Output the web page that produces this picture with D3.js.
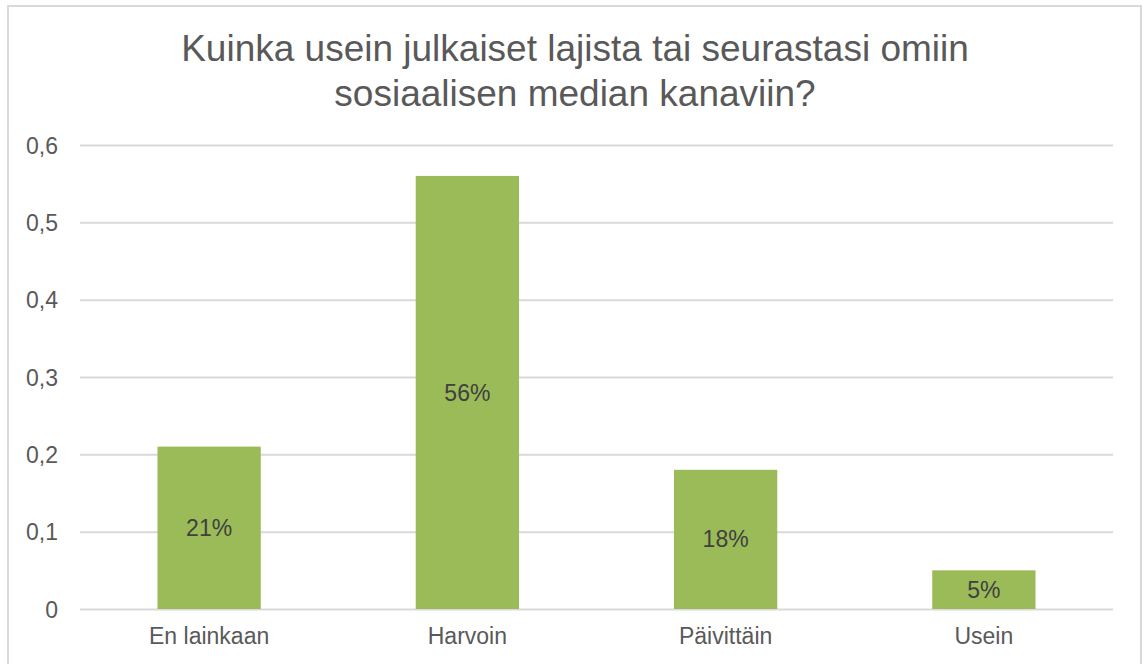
<!DOCTYPE html>
<html>
<head>
<meta charset="utf-8">
<script src="https://cdn.jsdelivr.net/npm/d3@7"></script>
<style>
  body { margin: 0; background: #fff; }
  svg { display: block; font-family: "Liberation Sans", Arial, sans-serif; }
  .tick text { fill: #595959; font-size: 23px; }
  .grid line { stroke: #d9d9d9; stroke-width: 2; }
</style>
</head>
<body>
<svg id="chart" width="1143" height="664"></svg>
<script>
// DATA
const categories = ['En lainkaan', 'Harvoin', 'Päivittäin', 'Usein'];
const shares = [0.21, 0.56, 0.18, 0.05];
const yTicks = [0, 0.1, 0.2, 0.3, 0.4, 0.5, 0.6];
const titleLines = ['Kuinka usein julkaiset lajista tai seurastasi omiin', 'sosiaalisen median kanaviin?'];

const svg = d3.select('#chart');

// CHART BORDER
svg.append('rect')
  .attr('x', 8).attr('y', 6)
  .attr('width', 1133).attr('height', 700)
  .attr('fill', 'none')
  .attr('stroke', '#d9d9d9')
  .attr('stroke-width', 2);

// TITLE
svg.append('text')
  .attr('text-anchor', 'middle')
  .attr('fill', '#595959')
  .attr('font-size', 37)
  .selectAll('tspan')
  .data(titleLines)
  .enter()
  .append('tspan')
  .attr('x', 575)
  .attr('y', (d, i) => 61 + i * 45)
  .text(d => d);

// SCALES
const xScale = d3.scaleBand().domain(categories).range([80, 1113])
  .paddingInner(0.6).paddingOuter(0.3);
const yScale = d3.scaleLinear().domain([0, 0.6]).range([609, 145]);

// GRIDLINES + Y AXIS LABELS
const yAxis = svg.append('g')
  .attr('class', 'grid')
  .attr('transform', 'translate(80,0)')
  .call(d3.axisLeft(yScale)
    .tickValues(yTicks)
    .tickSize(-1033)
    .tickPadding(22)
    .tickFormat(d => d === 0 ? '0' : d3.format('.1f')(d).replace('.', ',')));
yAxis.select('.domain').remove();
yAxis.selectAll('.tick text').attr('dy', '0.35em');

// BARS
svg.append('g').selectAll('rect')
  .data(shares)
  .enter()
  .append('rect')
  .attr('x', (d, i) => xScale(categories[i]))
  .attr('y', d => yScale(d))
  .attr('width', xScale.bandwidth())
  .attr('height', d => yScale(0) - yScale(d))
  .attr('fill', '#9bbb59');

// DATA LABELS
svg.append('g').selectAll('text')
  .data(shares)
  .enter()
  .append('text')
  .attr('x', (d, i) => xScale(categories[i]) + xScale.bandwidth() / 2)
  .attr('y', d => (yScale(d) + yScale(0)) / 2)
  .attr('dy', '0.35em')
  .attr('text-anchor', 'middle')
  .attr('fill', '#404040')
  .attr('font-size', 23)
  .text(d => Math.round(d * 100) + '%');

// X AXIS LABELS
const xAxis = svg.append('g')
  .attr('transform', 'translate(0,609)')
  .call(d3.axisBottom(xScale).tickSize(0).tickPadding(19));
xAxis.select('.domain').remove();
xAxis.selectAll('.tick text').attr('dy', '0.71em');
</script>
</body>
</html>
